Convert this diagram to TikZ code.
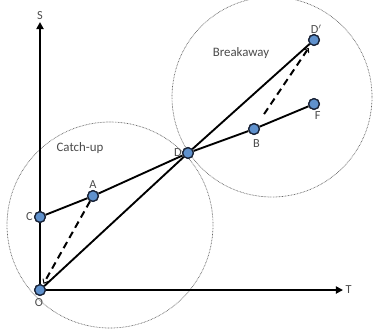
\documentclass[tikz,border=0pt]{standalone}
\usepackage{fontspec}
\setmainfont{Carlito}
\usepackage{tikz}
\usetikzlibrary{arrows.meta,positioning}
\definecolor{ptblue}{RGB}{95,145,205}
\definecolor{ptdark}{RGB}{25,35,55}
\definecolor{txtgray}{RGB}{75,75,75}
\definecolor{zonegray}{RGB}{100,100,100}

\begin{document}
\begin{tikzpicture}[x=0.03cm,y=-0.03cm,
  pt/.style={circle,draw=ptdark,fill=ptblue,line width=1.1pt,minimum size=0.32cm,inner sep=0pt},
  lbl/.style={font=\fontsize{10.5}{12}\selectfont,text=txtgray,inner sep=1pt},
  zone/.style={draw=zonegray,dash pattern=on 0.6pt off 0.7pt,line width=0.6pt},
  seg/.style={line width=1.6pt,black},
  move/.style={line width=1.7pt,black,dash pattern=on 6pt off 4pt,-{Straight Barb[length=3pt,width=5pt,line width=0.8pt]}},
  axis/.style={line width=1.8pt,black,-{Triangle[length=6pt,width=6pt]}},
]
  \useasboundingbox (0,0) rectangle (374,331);
  % zones
  \draw[zone] (110,225) circle[radius=103];
  \draw[zone] (272,97) circle[radius=100];
  \node[font=\fontsize{11}{13}\selectfont,text=txtgray] (catch) at (80,148) {Catch-up};
  \node[font=\fontsize{11}{13}\selectfont,text=txtgray] (brk) at (241,53) {Breakaway};
  % points
  \node[pt] (O) at (40,290) {};
  \node[pt] (C) at (40,217) {};
  \node[pt] (A) at (93,196) {};
  \node[pt] (D) at (188,153) {};
  \node[pt] (B) at (254,129) {};
  \node[pt] (F) at (314,104) {};
  \node[pt] (Dp) at (314,40) {};
  \coordinate (Stop) at (40,22);
  \coordinate (Tend) at (343,290);
  % axes
  \draw[axis] (O) -- (Stop);
  \draw[axis] (O) -- (Tend);
  \node[lbl,above=1pt of Stop] (S) {S};
  \node[lbl,right=1pt of Tend] (T) {T};
  % paths
  \draw[seg] (C) -- (A) -- (D);
  \draw[seg] (O) -- (D) -- (Dp);
  \draw[seg] (D) -- (B) -- (F);
  \draw[move,shorten >=1pt] (A) -- (O);
  \draw[move,shorten <=0.36cm,shorten >=3pt] (B) -- (Dp);
  % point labels
  \node[lbl,left=0pt of C] {C};
  \node[lbl,above=0pt of A] {A};
  \node[lbl,left=-1pt of D] {D};
  \node[lbl,above=-1pt of Dp,xshift=2pt] {D$'$};
  \node[lbl,below=1pt of O,xshift=-1pt] {O};
  \node[lbl,below=3pt of B,xshift=2pt] {B};
  \node[lbl,below right=2pt and -4pt of F] {F};
  \foreach \p in {O,C,A,D,B,F,Dp} \node[pt] at (\p) {};
\end{tikzpicture}
\end{document}
